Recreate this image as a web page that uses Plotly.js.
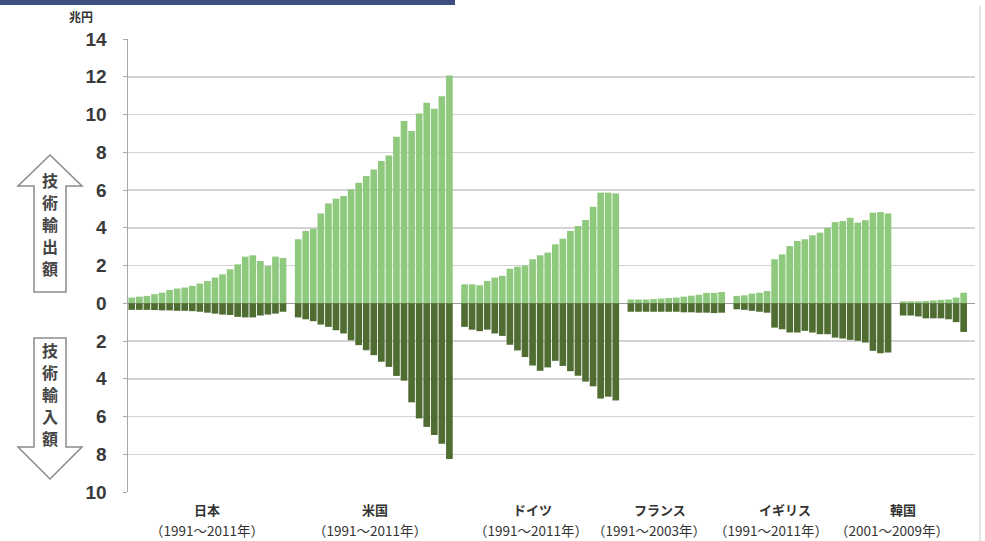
<!DOCTYPE html>
<html>
<head>
<meta charset="utf-8">
<script src="https://cdn.plot.ly/plotly-3.0.1.min.js"></script>
<style>html,body{margin:0;padding:0;background:#fff;}#chart{width:985px;height:541px;}</style>
</head>
<body>
<div id="chart"></div>
<script>
// ---- data (兆円) ----
const groupNames = ['日本', '米国', 'ドイツ', 'フランス', 'イギリス', '韓国'];
const groupPeriods = ['（1991～2011年）', '（1991～2011年）', '（1991～2011年）', '（1991～2003年）', '（1991～2011年）', '（2001～2009年）'];

const exportJapan = [0.30, 0.35, 0.39, 0.48, 0.56, 0.70, 0.78, 0.83, 0.92, 1.04, 1.18, 1.36, 1.53, 1.80, 2.06, 2.47, 2.54, 2.24, 1.97, 2.47, 2.40];
const importJapan = [0.35, 0.35, 0.35, 0.36, 0.38, 0.38, 0.40, 0.40, 0.42, 0.45, 0.50, 0.55, 0.60, 0.62, 0.72, 0.75, 0.75, 0.65, 0.60, 0.55, 0.45];

const exportUS = [3.39, 3.83, 3.95, 4.76, 5.29, 5.54, 5.68, 6.03, 6.38, 6.74, 7.09, 7.53, 7.83, 8.82, 9.65, 9.12, 10.05, 10.62, 10.30, 10.97, 12.06];
const importUS = [0.75, 0.85, 0.95, 1.13, 1.25, 1.43, 1.60, 1.96, 2.22, 2.49, 2.75, 3.10, 3.37, 3.85, 4.10, 5.25, 6.10, 6.55, 6.98, 7.45, 8.25];

const exportGermany = [1.00, 1.00, 0.95, 1.18, 1.36, 1.45, 1.83, 1.94, 2.00, 2.33, 2.54, 2.68, 3.12, 3.42, 3.83, 4.09, 4.41, 5.11, 5.86, 5.86, 5.82];
const importGermany = [1.25, 1.40, 1.48, 1.40, 1.60, 1.73, 2.20, 2.50, 2.85, 3.30, 3.58, 3.40, 3.05, 3.32, 3.60, 3.84, 4.15, 4.40, 5.05, 4.95, 5.15];

const exportFrance = [0.20, 0.20, 0.20, 0.22, 0.25, 0.28, 0.30, 0.35, 0.40, 0.45, 0.55, 0.55, 0.60];
const importFrance = [0.45, 0.45, 0.45, 0.45, 0.45, 0.45, 0.45, 0.48, 0.48, 0.50, 0.50, 0.52, 0.50];

const exportUK = [0.39, 0.42, 0.51, 0.56, 0.65, 2.33, 2.59, 3.03, 3.30, 3.39, 3.60, 3.74, 4.00, 4.30, 4.36, 4.53, 4.27, 4.40, 4.80, 4.83, 4.76];
const importUK = [0.32, 0.35, 0.40, 0.45, 0.50, 1.29, 1.38, 1.55, 1.55, 1.46, 1.55, 1.64, 1.64, 1.82, 1.87, 1.94, 1.99, 2.08, 2.52, 2.65, 2.61];

const exportKorea = [0.10, 0.10, 0.10, 0.12, 0.15, 0.18, 0.20, 0.30, 0.56];
const importKorea = [0.65, 0.65, 0.70, 0.80, 0.80, 0.80, 0.85, 1.00, 1.52];

const yTickVals = [-10, -8, -6, -4, -2, 0, 2, 4, 6, 8, 10, 12, 14];
const yTickText = ['10', '8', '6', '4', '2', '0', '2', '4', '6', '8', '10', '12', '14'];
const unitLabel = '兆円';
const exportLabel = ['技', '術', '輸', '出', '額'];
const importLabel = ['技', '術', '輸', '入', '額'];

// ---- build ----
const exportsAll = [exportJapan, exportUS, exportGermany, exportFrance, exportUK, exportKorea];
const importsAll = [importJapan, importUS, importGermany, importFrance, importUK, importKorea];

const xs = [], ex = [], im = [];
const groupStart = [], groupEnd = [];
let slot = 0;
exportsAll.forEach((arr, g) => {
  groupStart.push(slot);
  arr.forEach((v, i) => {
    xs.push(slot);
    ex.push(v);
    im.push(-importsAll[g][i]);
    slot++;
  });
  groupEnd.push(slot - 1);
  slot++; // gap between countries
});

const W = 985, H = 541;
const M = {l: 128, r: 10, t: 39, b: 49};
const PW = W - M.l - M.r, PH = H - M.t - M.b;
const px = x => (x - M.l) / PW;
const py = y => (H - M.b - y) / PH;
const pathOf = pts => 'M' + pts.map(p => px(p[0]) + ',' + py(p[1])).join(' L') + ' Z';

const lightGreen = '#8fc97d';
const darkGreen = '#4f6d31';

const traces = [
  {type: 'bar', x: xs, y: ex, marker: {color: lightGreen, line: {width: 0}}, hoverinfo: 'skip'},
  {type: 'bar', x: xs, y: im, marker: {color: darkGreen, line: {width: 0}}, hoverinfo: 'skip'}
];

const nameShift = [0, 1, -8, -16, -27, -30];
const periodShift = [0, -4, -9, -27, -41, -41];

const annotations = [];
groupNames.forEach((n, g) => {
  const c = (groupStart[g] + groupEnd[g]) / 2;
  annotations.push({xref: 'x', yref: 'paper', x: c, y: py(509), xshift: nameShift[g], text: n, showarrow: false,
    xanchor: 'center', yanchor: 'middle', font: {family: 'Noto Sans CJK JP', size: 13, color: '#333', weight: 'bold'}});
  annotations.push({xref: 'x', yref: 'paper', x: c, y: py(530), xshift: periodShift[g], text: groupPeriods[g], showarrow: false,
    xanchor: 'center', yanchor: 'middle', font: {family: 'Noto Sans CJK JP', size: 13.5, color: '#333'}});
});
annotations.push({xref: 'paper', yref: 'paper', x: px(81), y: py(17), text: unitLabel, showarrow: false,
  xanchor: 'center', yanchor: 'middle', font: {family: 'Noto Sans CJK JP', size: 12, color: '#333', weight: 'bold'}});
const upY = [180, 202, 224, 246, 268];
const downY = [350, 372, 394, 416, 438];
exportLabel.forEach((ch, i) => annotations.push({xref: 'paper', yref: 'paper', x: px(50), y: py(upY[i]), text: ch, showarrow: false,
  xanchor: 'center', yanchor: 'middle', borderpad: 0, font: {family: 'Noto Sans CJK JP', size: 16, color: '#444', weight: 'bold'}}));
importLabel.forEach((ch, i) => annotations.push({xref: 'paper', yref: 'paper', x: px(50), y: py(downY[i]), text: ch, showarrow: false,
  xanchor: 'center', yanchor: 'middle', borderpad: 0, font: {family: 'Noto Sans CJK JP', size: 16, color: '#444', weight: 'bold'}}));

const shapes = [
  {type: 'rect', xref: 'paper', yref: 'paper', x0: px(0), x1: px(455), y0: py(0), y1: py(5), fillcolor: '#3d4f80', line: {width: 0}, layer: 'above'},
  {type: 'line', xref: 'paper', yref: 'paper', x0: px(980), x1: px(980), y0: py(6), y1: py(541), line: {color: '#dddddd', width: 1.5}},
  {type: 'path', xref: 'paper', yref: 'paper', path: pathOf([[50, 155], [82, 186], [66, 186], [66, 292], [34, 292], [34, 186], [18, 186]]),
    fillcolor: '#ffffff', line: {color: '#8a8a8a', width: 1.5}, layer: 'below'},
  {type: 'path', xref: 'paper', yref: 'paper', path: pathOf([[34, 338], [66, 338], [66, 447], [82, 447], [50, 479], [18, 447], [34, 447]]),
    fillcolor: '#ffffff', line: {color: '#8a8a8a', width: 1.5}, layer: 'below'}
];

const layout = {
  width: W, height: H,
  margin: M,
  paper_bgcolor: '#ffffff', plot_bgcolor: '#ffffff',
  showlegend: false,
  barmode: 'relative',
  bargap: 0.12,
  xaxis: {range: [-0.5, 111.5], showticklabels: false, showgrid: false, zeroline: false, showline: false, ticks: '', fixedrange: true},
  yaxis: {range: [-10, 14], tickvals: yTickVals, ticktext: yTickText, showgrid: true, gridcolor: '#d3d3d3', gridwidth: 1.5,
    zeroline: true, zerolinecolor: '#9a9a9a', zerolinewidth: 1.5,
    showline: true, linecolor: '#a8a8a8', linewidth: 1.5, ticks: 'outside', ticklen: 4, tickcolor: '#a8a8a8',
    ticklabelstandoff: 12,
    tickfont: {family: 'Liberation Sans, Arial, sans-serif', size: 19, color: '#3a3a3a', weight: 'bold'}, fixedrange: true},
  annotations: annotations,
  shapes: shapes
};

Plotly.newPlot('chart', traces, layout, {displayModeBar: false, staticPlot: true});
</script>
</body>
</html>
